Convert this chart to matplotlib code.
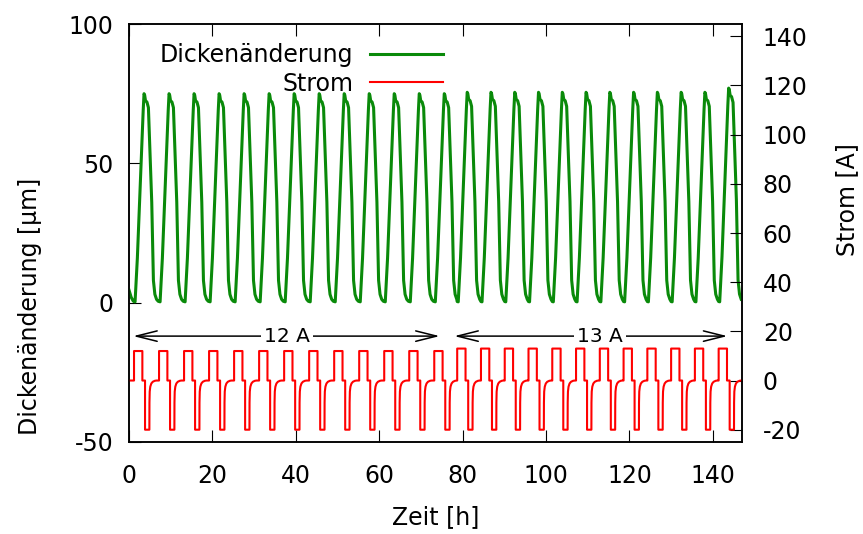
import numpy as np
import matplotlib
matplotlib.use("Agg")
import matplotlib.pyplot as plt

plt.rcParams['font.family'] = ['DejaVu Sans']
plt.rcParams['axes.unicode_minus'] = False

# ---- data -------------------------------------------------------------
# start of every charge pulse [h]
cycle_start_h = [1.2, 7.2, 13.2, 19.2, 25.2, 31.2, 37.2, 43.2, 49.2, 55.2, 61.2, 67.2, 73.2,
                 78.7, 84.4, 90.1, 95.8, 101.5, 107.2, 112.9, 118.6, 124.3, 130.0, 135.7, 141.4]
# charge current of every cycle [A]
charge_current_A = [12, 12, 12, 12, 12, 12, 12, 12, 12, 12, 12, 12, 12,
                    13, 13, 13, 13, 13, 13, 13, 13, 13, 13, 13, 13]
# maximum thickness change of every cycle [um]
peak_thickness_um = [75.0, 75.0, 75.0, 75.0, 75.0, 75.0, 75.0, 75.0, 75.0, 75.0, 75.0, 75.0, 75.0,
                     75.5, 75.5, 75.5, 75.5, 75.5, 75.5, 75.5, 75.5, 75.5, 75.5, 75.5, 77.0]

# current profile of one cycle: time after pulse start [h] and current [A]
# (charge level marked with None, filled with the cycle's charge current)
current_cycle_t = [0.0, 0.0, 2.0, 2.0, 2.64, 2.64, 3.68, 3.70, 3.76, 3.90, 4.15, 4.50, 5.00, 5.40]
current_cycle_A = [0.0, None, None, 0.0, 0.0, -20.0, -20.0, -9.0, -4.5, -2.5, -1.2, -0.5, -0.1, 0.0]

# thickness profile of one cycle, normalised to a 75 um peak
thick_cycle_t = [0.0, 0.25, 0.8, 1.3, 1.8, 2.2, 2.4, 2.55, 2.75, 3.1, 3.45, 3.8, 4.25, 4.5, 4.65, 5.0, 5.4, 5.8]
thick_cycle_um = [0.4, 0.3, 16.0, 35.0, 55.0, 69.0, 75.0, 74.5, 72.5, 72.0, 70.0, 55.0, 36.0, 18.0, 8.0, 3.0, 1.2, 0.5]

# rest before the first cycle
initial_t = [0.0, 0.5, 1.0]
initial_um = [4.5, 2.0, 0.6]
t_end = 147.0

# ---- assemble the time series ----------------------------------------
def assemble(shape_t, shape_v, level_of_cycle):
    t_out, v_out = [], []
    for i, t0 in enumerate(cycle_start_h):
        t_next = cycle_start_h[i + 1] if i + 1 < len(cycle_start_h) else t_end
        for dt, v in zip(shape_t, shape_v):
            if t0 + dt < t_next:
                t_out.append(t0 + dt)
                v_out.append(level_of_cycle(i, v))
    return t_out, v_out

cur_t, cur_A = assemble(current_cycle_t, current_cycle_A,
                        lambda i, v: charge_current_A[i] if v is None else v)
cur_t = [0.0] + cur_t
cur_A = [0.0] + cur_A

th_t, th_um = assemble(thick_cycle_t, thick_cycle_um,
                       lambda i, v: v * peak_thickness_um[i] / 75.0)
th_t = initial_t + th_t
th_um = initial_um + th_um

# ---- figure -----------------------------------------------------------
fig = plt.figure(figsize=(8.63, 5.34), dpi=100)
ax = fig.add_axes([0.1495, 0.1723, 0.7103, 0.7827])
ax2 = ax.twinx()

green = '#0a8a0a'
red = '#ff0000'

l1, = ax.plot(th_t, th_um, color=green, lw=2.2, label='Dickenänderung', zorder=3)
l2, = ax2.plot(cur_t, cur_A, color=red, lw=1.5, label='Strom')

ax.set_xlim(0, 147)
ax.set_ylim(-50, 100)
ax2.set_ylim(-25, 145)
ax.set_xticks(np.arange(0, 141, 20))
ax.set_yticks([-50, 0, 50, 100])
ax2.set_yticks(np.arange(-20, 141, 20))

fs = 17
ax.tick_params(axis='x', direction='in', length=8.5, width=0.8, top=True, labelsize=fs, pad=16)
ax.tick_params(axis='y', direction='in', length=8.5, width=0.8, right=False, labelsize=fs, pad=11)
ax2.tick_params(axis='y', direction='in', length=8.5, width=0.8, left=False, labelsize=fs, pad=15)
for a in (ax, ax2):
    for s in a.spines.values():
        s.set_linewidth(1.1)

ax.set_xlabel('Zeit [h]', fontsize=fs, labelpad=12)
ax.set_ylabel('Dickenänderung [µm]', fontsize=fs)
ax2.set_ylabel('Strom [A]', fontsize=fs)
ax.yaxis.set_label_coords(-0.142, 0.325)
ax2.yaxis.set_label_coords(1.152, 0.579)

# current ranges
arrow_y = -12
for x0, x1, xt, txt in [(1.0, 74.5, 37.9, '12 A'), (78.0, 143.5, 112.9, '13 A')]:
    ax.annotate('', xy=(x1, arrow_y), xytext=(x0, arrow_y),
                arrowprops=dict(arrowstyle='<->,head_length=1.0,head_width=0.25',
                                lw=1.1, color='black', mutation_scale=15,
                                shrinkA=0, shrinkB=0), zorder=4)
    ax.text(xt, arrow_y, txt, ha='center', va='center', fontsize=14.5, zorder=5,
            bbox=dict(facecolor='white', edgecolor='none', pad=2))

leg = ax.legend(handles=[l1, l2], loc='upper right', bbox_to_anchor=(0.5125, 0.955),
                frameon=False, markerfirst=False, fontsize=fs, handlelength=3.1,
                handletextpad=0.7, labelspacing=0.2, borderaxespad=0, borderpad=0)

fig.savefig('out.png', dpi=100)
